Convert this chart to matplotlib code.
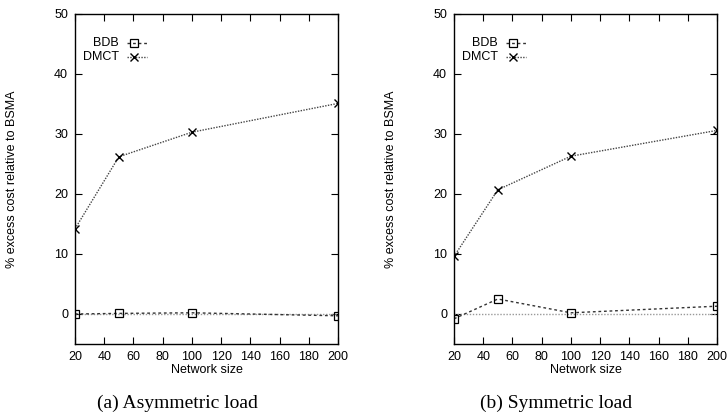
import matplotlib
matplotlib.use("Agg")
import matplotlib.pyplot as plt

plt.rcParams['font.family'] = ['Liberation Sans', 'DejaVu Sans']

# network sizes
sizes = [20, 50, 100, 200]

# (a) asymmetric load
asym_bdb = [0.0, 0.1, 0.2, -0.3]
asym_dmct = [14.2, 26.2, 30.3, 35.1]

# (b) symmetric load
sym_bdb = [-0.8, 2.5, 0.2, 1.3]
sym_dmct = [9.6, 20.7, 26.3, 30.6]

xticks = [20, 40, 60, 80, 100, 120, 140, 160, 180, 200]
yticks = [0, 10, 20, 30, 40, 50]

panels = [
    ("(a) Asymmetric load", asym_bdb, asym_dmct, 75),
    ("(b) Symmetric load", sym_bdb, sym_dmct, 454),
]

W, H = 728, 416
FS = 9
fig = plt.figure(figsize=(W / 100, H / 100), dpi=100)


def draw_panel(left_px, caption, bdb, dmct):
    ax = fig.add_axes([left_px / W, 1 - 344 / H, 263 / W, 330 / H])
    # reference line at zero
    ax.plot([20, 200], [0, 0], color="#999999", ls=(0, (1, 1.2)), lw=1.0)
    ax.plot(sizes, bdb, color="#333333", ls=(0, (2, 2)), lw=1.0,
            marker="s", mfc="none", mec="black", ms=5.5, mew=0.9)
    ax.plot(sizes, dmct, color="#444444", ls=(0, (1, 1)), lw=1.0,
            marker="x", mec="black", ms=6, mew=1.0)

    ax.set_xlim(20, 200)
    ax.set_ylim(-5, 50)
    ax.set_xticks(xticks)
    ax.set_yticks(yticks)
    ax.tick_params(direction="in", top=True, right=True, length=5,
                   width=0.8, labelsize=FS, pad=5)
    for s in ax.spines.values():
        s.set_linewidth(1.0)

    ax.set_xlabel("Network size", fontsize=FS, labelpad=1)
    ax.set_ylabel("% excess cost relative to BSMA", fontsize=FS)
    ax.yaxis.set_label_coords(-0.218, 0.5)

    # gnuplot style key
    ax.text(0.167, 0.912, "BDB", transform=ax.transAxes, ha="right",
            va="center", fontsize=FS)
    ax.plot([0.197, 0.273], [0.912, 0.912], transform=ax.transAxes,
            color="#333333", ls=(0, (2, 2)), lw=1.0)
    ax.plot([0.225], [0.912], transform=ax.transAxes, marker="s",
            mfc="none", mec="black", ms=5.5, mew=0.9)
    ax.text(0.167, 0.870, "DMCT", transform=ax.transAxes, ha="right",
            va="center", fontsize=FS)
    ax.plot([0.197, 0.273], [0.870, 0.870], transform=ax.transAxes,
            color="#444444", ls=(0, (1, 1)), lw=1.0)
    ax.plot([0.225], [0.870], transform=ax.transAxes, marker="x",
            mec="black", ms=6, mew=1.0)

    fig.text((left_px + 102) / W, 1 - 403 / H, caption,
             ha="center", va="center", fontsize=14,
             family="Liberation Serif")
    return ax


for caption, bdb, dmct, left in panels:
    draw_panel(left, caption, bdb, dmct)

fig.savefig("out.png", dpi=100)
